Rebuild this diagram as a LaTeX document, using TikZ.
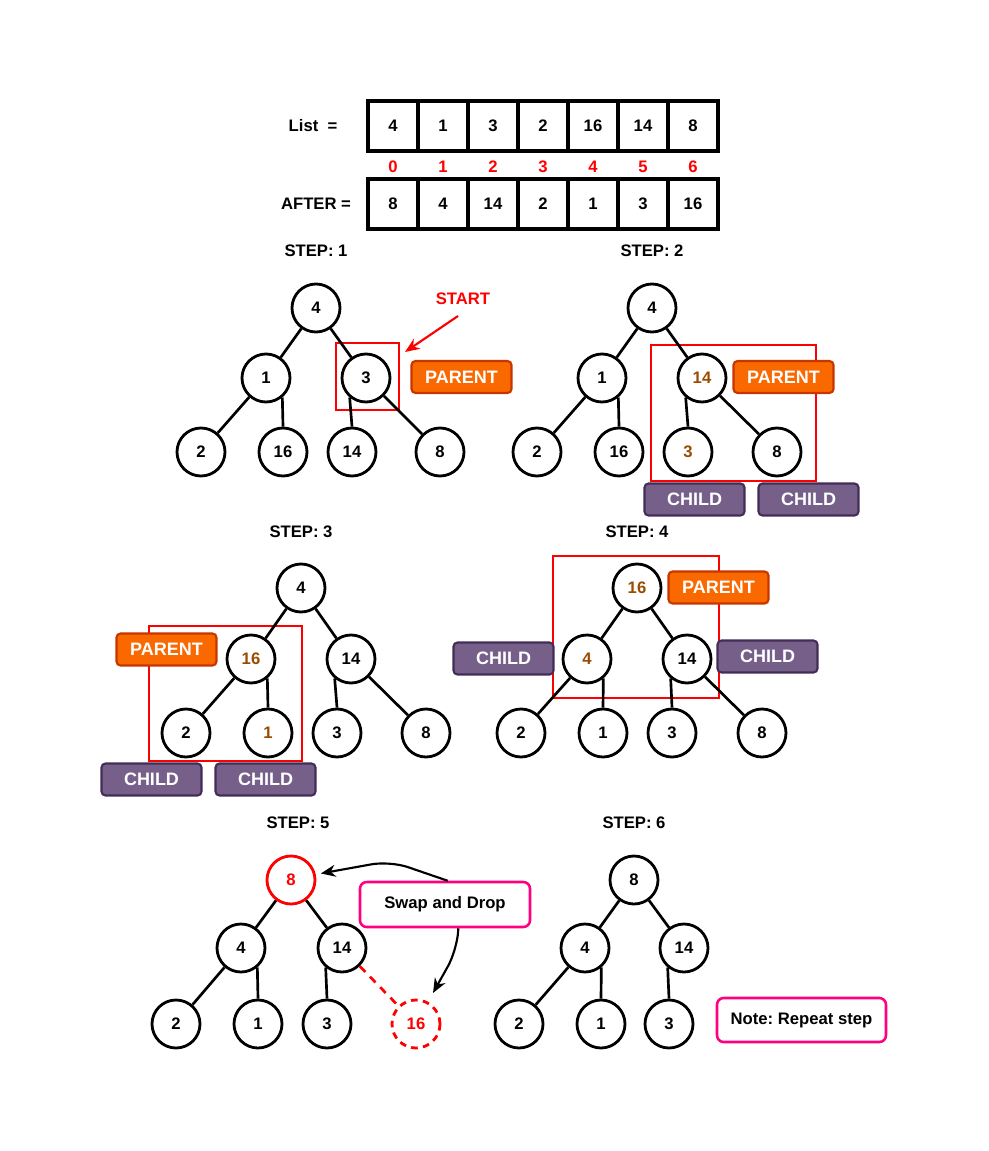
\documentclass[tikz,border=0pt]{standalone}
\usepackage{fontspec}
\setmainfont{Liberation Sans}
\usetikzlibrary{arrows.meta}
\definecolor{orf}{HTML}{FA6800}
\definecolor{ors}{HTML}{C73500}
\definecolor{puf}{HTML}{76608A}
\definecolor{pus}{HTML}{432D57}
\definecolor{pinkc}{HTML}{FF0080}
\definecolor{brn}{HTML}{994C00}
\definecolor{rd}{HTML}{FF0000}
\frenchspacing
\begin{document}
\begin{tikzpicture}[x=0.75pt,y=-0.75pt,
 every node/.style={font=\fontsize{12.5}{14}\selectfont\bfseries},
 nd/.style={circle,draw,fill=white,line width=2.1pt,minimum size=36pt,inner sep=0pt},
 cell/.style={draw,line width=2.3pt,minimum width=37.5pt,minimum height=37.5pt,inner sep=0pt},
 ln/.style={line width=2pt},
 tag/.style={rounded corners=3pt,line width=1.6pt,text=white,minimum width=75pt,minimum height=24pt,inner sep=0pt,font=\fontsize{13.5}{15}\selectfont\bfseries},
 par/.style={tag,draw=ors,fill=orf},
 chi/.style={tag,draw=pus,fill=puf},
 hl/.style={draw=rd,line width=1.9pt},
 note/.style={draw=pinkc,fill=white,line width=1.9pt,rounded corners=5pt,inner sep=0pt},
 idx/.style={text=rd},
 bt/.style={text=brn},
 arr/.style={line width=1.6pt,-{Stealth[length=11pt,width=9pt]}}
]
\useasboundingbox (0,0) rectangle (988,1151);

% ---- arrays
\node (lbl1) at (313,126) {List\ \ =};
\node (lbl2) at (316,204) {AFTER =};
\foreach \v [count=\i from 0] in {4,1,3,2,16,14,8}
  \node[cell] (a\i) at (393+50*\i,126) {\v};
\foreach \v [count=\i from 0] in {0,1,2,3,4,5,6}
  \node[idx] (ix\i) at (393+50*\i,167) {\v};
\foreach \v [count=\i from 0] in {8,4,14,2,1,3,16}
  \node[cell] (b\i) at (393+50*\i,204) {\v};

% ---- step labels
\node (st1) at (316,251) {STEP: 1};
\node (st2) at (652,251) {STEP: 2};
\node (st3) at (301,532) {STEP: 3};
\node (st4) at (637,532) {STEP: 4};
\node (st5) at (298,823) {STEP: 5};
\node (st6) at (634,823) {STEP: 6};

% ---- highlight boxes
\draw[hl] (336,343) rectangle (399,410);
\draw[hl] (651,345) rectangle (816,481);
\draw[hl] (149,626) rectangle (302,761);
\draw[hl] (553,556) rectangle (719,698);

% ---- step 1
\node[nd] (p1) at (316,308) {4};
\node[nd] (p2) at (266,378) {1};
\node[nd] (p3) at (366,378) {3};
\node[nd] (p4) at (201,452) {2};
\node[nd] (p5) at (283,452) {16};
\node[nd] (p6) at (352,452) {14};
\node[nd] (p7) at (440,452) {8};
\draw[ln] (p1) -- (p2); \draw[ln] (p1) -- (p3);
\draw[ln] (p2) -- (p4); \draw[ln] (p2.-50) -- (p5.north);
\draw[ln] (p3.-130) -- (p6.north); \draw[ln] (p3) -- (p7);
\node[text=rd] (start) at (463,299) {START};
\coordinate (starttip) at (405,352);
\draw[arr,rd] (458,316) -- (starttip);
\node[par] (par1) at (461.5,377) {PARENT};

% ---- step 2
\node[nd] (q1) at (652,308) {4};
\node[nd] (q2) at (602,378) {1};
\node[nd,bt] (q3) at (702,378) {14};
\node[nd] (q4) at (537,452) {2};
\node[nd] (q5) at (619,452) {16};
\node[nd,bt] (q6) at (688,452) {3};
\node[nd] (q7) at (777,452) {8};
\draw[ln] (q1) -- (q2); \draw[ln] (q1) -- (q3);
\draw[ln] (q2) -- (q4); \draw[ln] (q2.-50) -- (q5.north);
\draw[ln] (q3.-130) -- (q6.north); \draw[ln] (q3) -- (q7);
\node[par] (par2) at (783.5,377) {PARENT};
\node[chi] (c2a) at (694.5,499.5) {CHILD};
\node[chi] (c2b) at (808.5,499.5) {CHILD};

% ---- step 3
\node[nd] (r1) at (301,588) {4};
\node[nd,bt] (r2) at (251,659) {16};
\node[nd] (r3) at (351,659) {14};
\node[nd] (r4) at (186,733) {2};
\node[nd,bt] (r5) at (268,733) {1};
\node[nd] (r6) at (337,733) {3};
\node[nd] (r7) at (426,733) {8};
\draw[ln] (r1) -- (r2); \draw[ln] (r1) -- (r3);
\draw[ln] (r2) -- (r4); \draw[ln] (r2.-50) -- (r5.north);
\draw[ln] (r3.-130) -- (r6.north); \draw[ln] (r3) -- (r7);
\node[par] (par3) at (166.5,649.5) {PARENT};
\node[chi] (c3a) at (151.5,779.5) {CHILD};
\node[chi] (c3b) at (265.5,779.5) {CHILD};

% ---- step 4
\node[nd,bt] (s1) at (637,588) {16};
\node[nd,bt] (s2) at (587,659) {4};
\node[nd] (s3) at (687,659) {14};
\node[nd] (s4) at (521,733) {2};
\node[nd] (s5) at (603,733) {1};
\node[nd] (s6) at (672,733) {3};
\node[nd] (s7) at (762,733) {8};
\draw[ln] (s1) -- (s2); \draw[ln] (s1) -- (s3);
\draw[ln] (s2) -- (s4); \draw[ln] (s2.-50) -- (s5.north);
\draw[ln] (s3.-130) -- (s6.north); \draw[ln] (s3) -- (s7);
\node[par] (par4) at (718.5,587.5) {PARENT};
\node[chi] (c4a) at (503.5,658.5) {CHILD};
\node[chi] (c4b) at (767.5,656.5) {CHILD};

% ---- step 5
\node[nd,draw=rd,text=rd] (t1) at (291,880) {8};
\node[nd] (t2) at (241,948) {4};
\node[nd] (t3) at (342,948) {14};
\node[nd] (t4) at (176,1024) {2};
\node[nd] (t5) at (258,1024) {1};
\node[nd] (t6) at (327,1024) {3};
\node[nd,draw=rd,text=rd,dash pattern=on 5pt off 4pt] (t7) at (416,1024) {16};
\draw[ln] (t1) -- (t2); \draw[ln] (t1) -- (t3);
\draw[ln] (t2) -- (t4); \draw[ln] (t2.-50) -- (t5.north);
\draw[ln] (t3.-130) -- (t6.north);
\draw[ln,rd,dash pattern=on 6pt off 5pt] (t3) -- (t7);
\node[note,minimum width=127.5pt,minimum height=33.75pt] (swap) at (445,904.5) {Swap and Drop};
\draw[arr,rounded corners=14pt] ([xshift=2pt]swap.north) -- (390,861) -- ([xshift=4pt]t1.15);
\coordinate (droptip) at (433,993);
\draw[arr,rounded corners=14pt] ([xshift=10pt]swap.south) -- (457,950) -- (droptip);

% ---- step 6
\node[nd] (u1) at (634,880) {8};
\node[nd] (u2) at (585,948) {4};
\node[nd] (u3) at (684,948) {14};
\node[nd] (u4) at (519,1024) {2};
\node[nd] (u5) at (601,1024) {1};
\node[nd] (u6) at (669,1024) {3};
\draw[ln] (u1) -- (u2); \draw[ln] (u1) -- (u3);
\draw[ln] (u2) -- (u4); \draw[ln] (u2.-50) -- (u5.north);
\draw[ln] (u3.-130) -- (u6.north);
\node[note,minimum width=126.75pt,minimum height=33pt] (rep) at (801.5,1020) {Note: Repeat step};
\end{tikzpicture}
\end{document}
